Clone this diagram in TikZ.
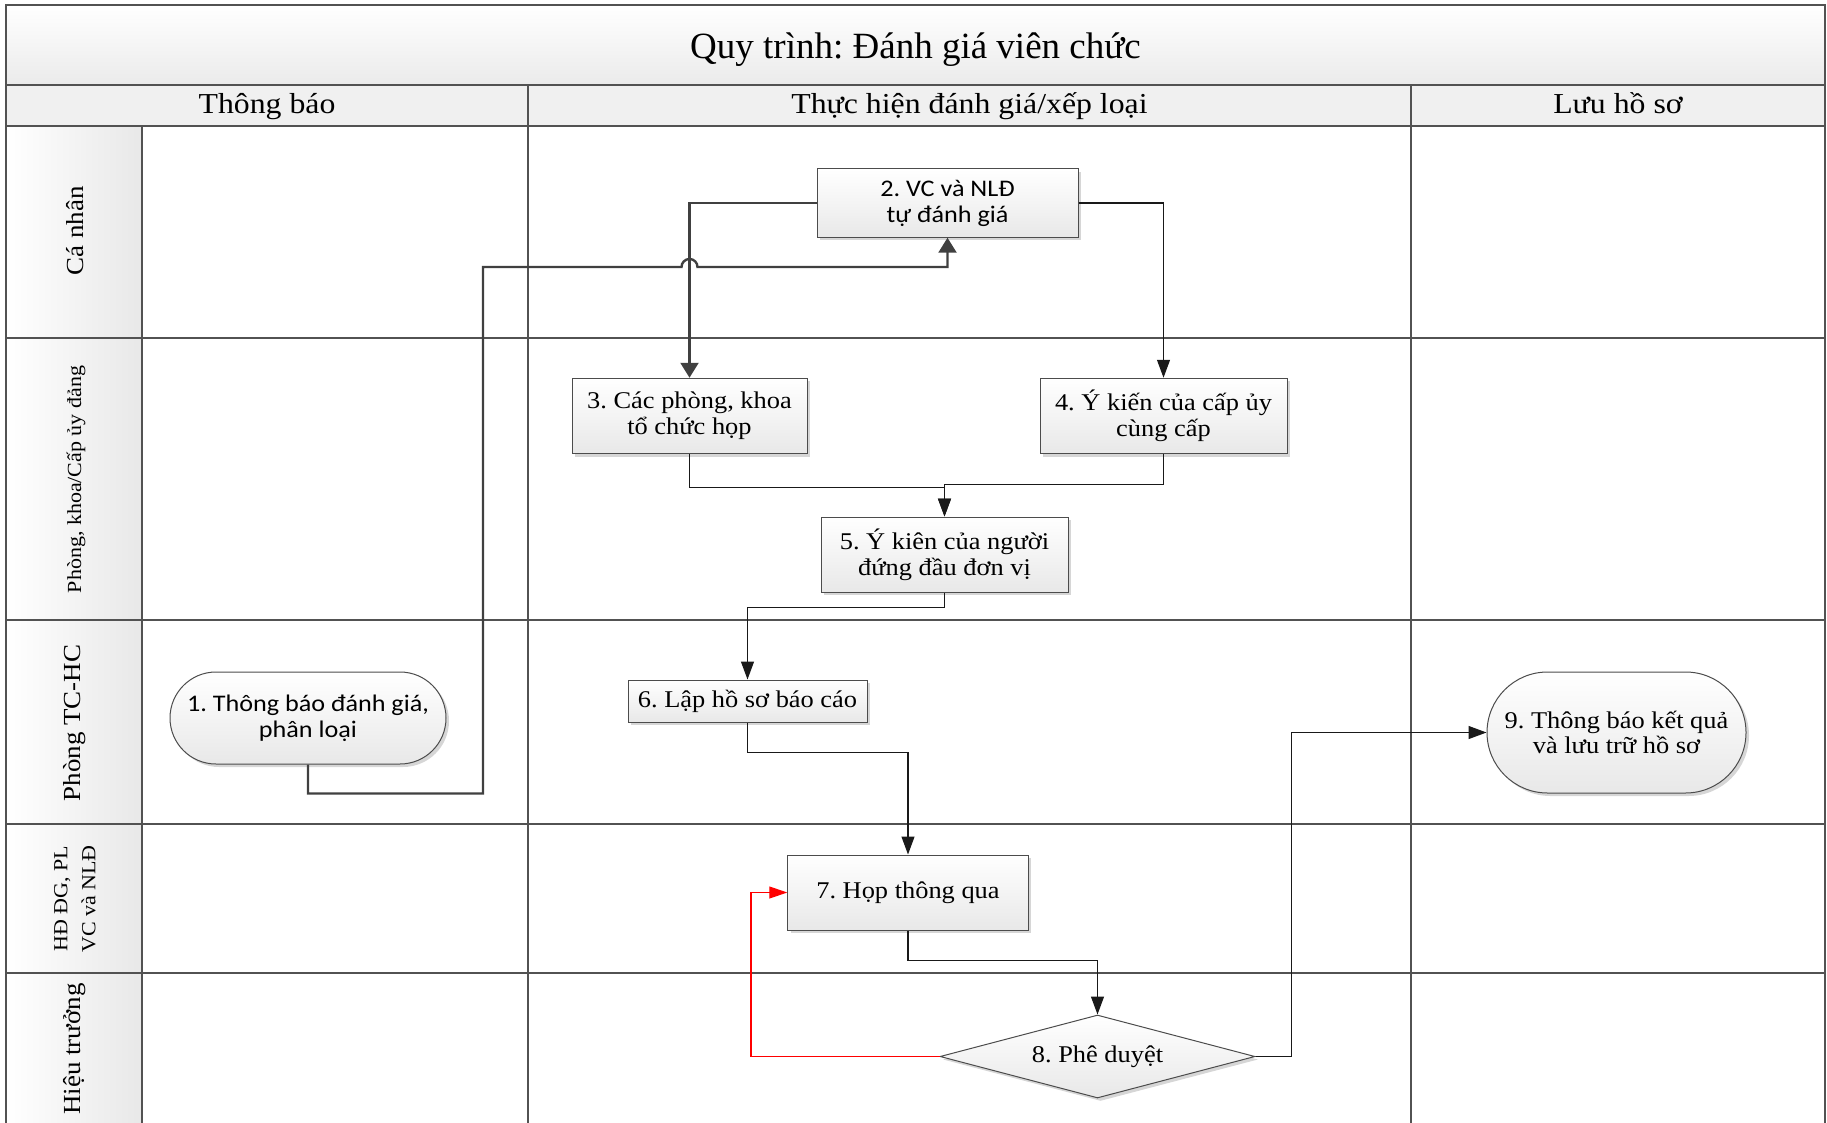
\documentclass[tikz,border=0pt]{standalone}
\usepackage{fontspec}
\setmainfont{Liberation Serif}
\newfontfamily\timesf{Liberation Serif}[FakeStretch=1.1]
\newfontfamily\calf{Carlito}[FakeStretch=1.1]
\usetikzlibrary{arrows.meta,shapes.geometric,shapes.misc,shadows}
\frenchspacing
\begin{document}
\frenchspacing
\begin{tikzpicture}[x=1pt,y=-1pt,
  laneline/.style={draw=black!68, line width=1.8pt},
  shadowed/.style={drop shadow={shadow xshift=3pt, shadow yshift=-3pt, fill=black!16, opacity=1}},
  box/.style={rectangle, draw=black!70, line width=1pt, top color=white, bottom color=black!9,
    shadowed, align=center, inner sep=0pt, font=\timesf\fontsize{24}{26}\selectfont},
  calbox/.style={box, font=\calf\fontsize{23.8}{26}\selectfont},
  term/.style={rounded rectangle, draw=black!70, line width=1pt, top color=white, bottom color=black!9,
    shadowed, align=center, inner sep=0pt},
  decision/.style={diamond, shape aspect=3.8, draw=black!70, line width=1pt, top color=white, bottom color=black!9,
    shadowed, align=center, inner sep=0pt, font=\timesf\fontsize{24}{26}\selectfont},
  header/.style={anchor=base, font=\timesf\fontsize{28.9}{31}\selectfont},
  lanelabel/.style={rotate=90, align=center, font=\timesf\fontsize{24.5}{26}\selectfont},
  smalllabel/.style={rotate=90, align=center, font=\timesf\fontsize{20}{28}\selectfont},
  thinarrow/.style={draw=black!90, line width=1.2pt, -{Triangle[length=18pt,width=13pt]}},
  thickarrow/.style={draw=black!75, line width=2.4pt, -{Triangle[length=15pt,width=18pt]}},
  redarrow/.style={draw=red, line width=1.2pt, -{Triangle[length=18pt,width=12pt]}}
]
\useasboundingbox (0,0) rectangle (1827,1123);
\clip (0,0) rectangle (1827,1123);

% backgrounds
\shade[top color=white, bottom color=black!8] (6,5) rectangle (1825,85);
\fill[black!6] (6,85) rectangle (1825,126);
\shade[left color=white, right color=black!9] (6,126) rectangle (142,1140);

% lane grid
\draw[laneline] (6,5) rectangle (1825,1140);
\draw[laneline] (6,85) -- (1825,85);
\draw[laneline] (6,126) -- (1825,126);
\draw[laneline] (6,338) -- (1825,338);
\draw[laneline] (6,620) -- (1825,620);
\draw[laneline] (6,824) -- (1825,824);
\draw[laneline] (6,973) -- (1825,973);
\draw[laneline] (142,126) -- (142,1140);
\draw[laneline] (528,85) -- (528,1140);
\draw[laneline] (1411,85) -- (1411,1140);

% title and headers
\node[anchor=base, font=\fontsize{37}{40}\selectfont] (title) at (915.5,59) {Quy trình: Đánh giá viên chức};
\node[header] (h1) at (267,114) {Thông báo};
\node[header] (h2) at (969.5,114) {Thực hiện đánh giá/xếp loại};
\node[header] (h3) at (1618,114) {Lưu hồ sơ};

% lane labels
\node[lanelabel] (l1) at (75,231) {Cá nhân};
\node[smalllabel] (l2) at (76,479.5) {Phòng, khoa/Cấp ủy đảng};
\node[lanelabel] (l3) at (75,723) {Phòng TC-HC};
\node[smalllabel] (l4) at (75,899) {HĐ ĐG, PL\\VC và NLĐ};
\node[lanelabel] (l5) at (75,1049) {Hiệu trưởng};

% process nodes
\node[term, minimum width=276pt, minimum height=92pt, font=\calf\fontsize{23.8}{26}\selectfont] (n1) at (308,718) {1. Thông báo đánh giá,\\phân loại};
\node[calbox, minimum width=261pt, minimum height=68.5pt] (n2) at (947.5,203) {2. VC và NLĐ\\tự đánh giá};
\node[box, minimum width=235pt, minimum height=75.5pt] (n3) at (689.5,416) {3. Các phòng, khoa\\tổ chức họp};
\node[box, minimum width=247pt, minimum height=75.5pt] (n4) at (1163.5,416) {4. Ý kiến của cấp ủy\\cùng cấp};
\node[box, minimum width=247pt, minimum height=75pt] (n5) at (944.5,554.5) {5. Ý kiên của người\\đứng đầu đơn vị};
\node[box, minimum width=239pt, minimum height=42pt] (n6) at (747.5,701) {6. Lập hồ sơ báo cáo};
\node[box, minimum width=240.5pt, minimum height=75pt] (n7) at (908,892.5) {7. Họp thông qua};
\node[decision, minimum width=315pt, minimum height=83pt] (n8) at (1097.5,1056.5) {8. Phê duyệt};
\node[term, minimum width=259pt, minimum height=121pt, font=\timesf\fontsize{24}{24.5}\selectfont] (n9) at (1616.5,732.5) {9. Thông báo kết quả\\và lưu trữ hồ sơ};

% connectors
\draw[thickarrow] (n1.south) -- ++(0,29) -| (483,267) -- (681.5,267)
  arc[start angle=180, end angle=360, radius=8] -- (947.5,267) -- (n2.south);
\draw[thickarrow] (n2.west) -| (n3.north);
\draw[thinarrow] (n2.east) -| (n4.north);
\draw[thinarrow] (n3.south) -- ++(0,33) -| (n5.north);
\draw[thinarrow] (n4.south) -- ++(0,30) -| (n5.north);
\draw[thinarrow] (n5.south) -- ++(0,15) -| (n6.north);
\draw[thinarrow] (n6.south) -- ++(0,30) -| (n7.north);
\draw[thinarrow] (n7.south) -- ++(0,30) -| (n8.north);
\draw[redarrow] (n8.west) -- (751,1056.5) |- (n7.west);
\draw[thinarrow] (n8.east) -- (1291.5,1056.5) |- (n9.west);
\end{tikzpicture}
\end{document}
